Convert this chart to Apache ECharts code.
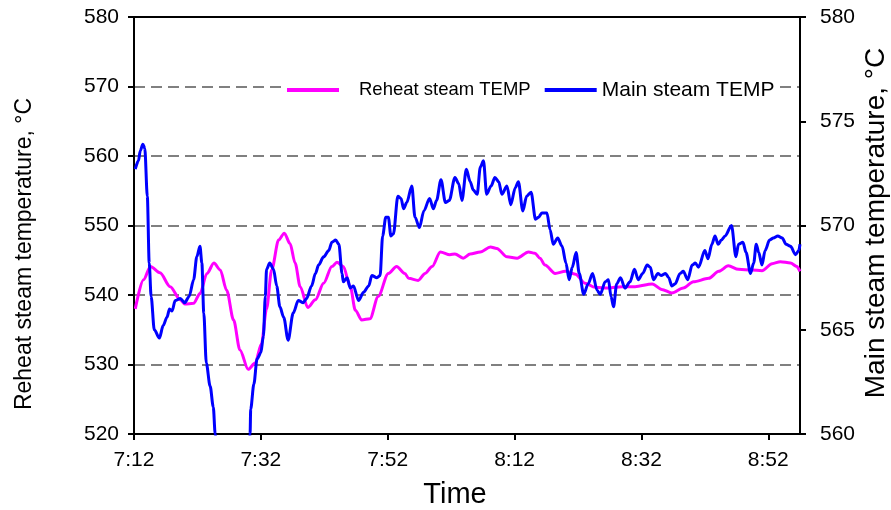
<!DOCTYPE html>
<html>
<head>
<meta charset="utf-8">
<script src="https://cdn.jsdelivr.net/npm/echarts@6/dist/echarts.min.js"></script>
<style>
  html, body { margin: 0; padding: 0; background: #fff; }
  #chart { width: 891px; height: 510px; }
</style>
</head>
<body>
<div id="chart"></div>
<script>
// Minutes elapsed since 7:12 and temperatures (°C)
const reheatTime = [0.2, 1.5, 2.6, 4.1, 5.7, 7.3, 8.0, 9.4, 10.4, 11.5, 12.6, 13.6, 14.6, 15.7, 16.7, 18.0, 19.1, 20.1, 20.9, 21.7,
  22.8, 23.7, 24.6, 25.4, 26.2, 27.4, 28.6, 29.9, 31.2, 32.0, 33.0, 34.1, 34.9, 35.9, 37.2, 38.5, 40.1, 41.4, 42.7, 43.3,
  44.8, 45.9, 47.0, 48.3, 49.8, 50.6, 51.9, 53.0, 54.6, 56.2, 57.2, 58.8, 60.4, 62.2, 63.2, 64.0, 64.8, 66.4, 68.0, 69.6,
  71.1, 72.7, 74.8, 76.9, 79.0, 81.7, 83.2, 84.8, 86.6, 88.2, 90.6, 92.2, 93.7, 95.3, 97.4, 99.0, 100.6, 101.9, 103.5, 104.5, 105.0];
const reheatTemp = [538.0, 542.2, 544.1, 543.2, 541.2, 539.3, 538.7, 538.8, 540.2, 543.1, 544.6, 543.6, 540.7, 536.4, 532.1, 529.3, 530.2, 533.0, 538.0, 543.6,
  547.9, 548.9, 547.4, 544.6, 541.2, 538.2, 539.3, 541.7, 544.1, 544.7, 544.1, 541.2, 537.8, 536.4, 536.6, 539.8, 543.1, 544.1, 543.1, 542.4,
  542.1, 543.1, 544.1, 546.2, 545.8, 545.9, 545.3, 545.9, 546.2, 546.9, 546.7, 545.5, 545.3, 546.2, 546.0, 545.3, 544.3, 543.1, 543.4, 543.0,
  541.7, 541.1, 541.0, 541.2, 541.2, 541.6, 540.8, 540.3, 541.0, 541.9, 542.4, 543.4, 544.2, 543.7, 543.6, 543.5, 544.5, 544.8, 544.6, 544.1, 543.4];

const mainTime = [0.2, 0.7, 1.0, 1.4, 1.7, 2.1, 2.4, 2.7, 3.2, 4.0, 4.6, 5.2, 5.6, 6.0, 6.5, 7.3, 8.0, 8.7, 9.4, 9.9,
  10.4, 10.7, 11.0, 11.4, 12.0, 12.5, 12.8, 13.1, 15.5, 18.0, 18.3, 18.4, 18.9, 19.4, 20.0, 20.4, 20.7, 20.9, 21.4, 22.0,
  22.5, 23.0, 23.6, 24.3, 25.1, 25.9, 26.7, 27.2, 28.0, 28.6, 29.1, 29.9, 30.7, 31.2, 31.8, 32.3, 32.8, 33.0, 33.6, 34.1,
  34.6, 35.4, 36.2, 37.0, 37.5, 38.3, 38.8, 39.2, 39.7, 40.1, 40.5, 40.9, 41.6, 42.1, 42.5, 43.0, 43.8, 44.3, 45.0, 45.7,
  46.6, 47.2, 47.7, 48.4, 49.1, 49.7, 50.6, 51.2, 51.7, 52.4, 53.0, 53.5, 54.1, 54.6, 55.1, 55.6, 56.3, 56.9, 57.5, 58.0,
  58.8, 59.4, 60.1, 60.6, 61.3, 61.9, 62.6, 63.3, 63.8, 64.3, 65.1, 65.6, 66.1, 66.8, 67.5, 68.1, 68.6, 69.1, 69.7, 70.2,
  70.9, 71.6, 72.3, 73.0, 73.5, 74.3, 74.8, 75.2, 75.6, 76.1, 76.7, 77.4, 78.2, 78.9, 79.5, 80.2, 80.9, 81.4, 81.9, 82.6,
  83.1, 83.8, 84.3, 84.8, 85.3, 86.1, 86.6, 87.3, 88.0, 88.5, 89.0, 90.0, 90.5, 91.1, 91.6, 92.1, 92.6, 93.2, 94.2, 94.9,
  95.3, 96.0, 96.5, 97.2, 97.7, 98.1, 98.5, 99.0, 99.5, 100.2, 100.8, 101.5, 102.2, 102.8, 103.5, 104.3, 104.8, 105.0];
const mainTemp = [572.7, 573.1, 573.6, 573.9, 573.7, 571.4, 568.2, 566.6, 565.0, 564.6, 565.2, 565.6, 566.0, 565.9, 566.4, 566.5, 566.3, 566.6, 567.4, 568.5,
  569.0, 568.2, 565.8, 563.4, 562.3, 561.3, 560.0, 558.8, 556.5, 558.5, 560.0, 561.2, 562.4, 563.6, 563.9, 564.7, 566.6, 567.9, 568.2, 567.9,
  567.1, 566.1, 565.6, 564.5, 565.8, 566.4, 566.3, 566.5, 567.1, 567.7, 568.1, 568.5, 568.8, 569.2, 569.3, 569.1, 567.7, 567.3, 567.5, 567.0,
  567.1, 566.4, 566.8, 567.1, 567.6, 567.5, 567.6, 569.5, 570.4, 570.4, 569.5, 569.6, 571.4, 571.3, 570.8, 571.1, 571.9, 570.4, 569.9, 570.7,
  571.3, 570.8, 571.2, 572.2, 571.1, 571.2, 572.3, 572.0, 571.2, 572.7, 572.1, 571.7, 571.5, 572.8, 573.1, 571.5, 571.9, 572.3, 572.1, 571.5,
  571.9, 571.0, 571.8, 572.1, 570.7, 571.4, 571.6, 570.3, 570.4, 570.6, 570.6, 569.8, 569.1, 569.4, 569.0, 568.2, 567.4, 568.0, 568.7, 567.7,
  566.7, 567.2, 567.7, 566.9, 566.7, 567.3, 567.4, 566.6, 566.1, 567.2, 567.5, 567.0, 567.3, 567.9, 567.4, 567.7, 568.1, 568.0, 567.4, 567.7,
  567.6, 567.7, 567.5, 567.1, 567.2, 567.7, 567.8, 567.4, 568.1, 568.2, 568.0, 568.8, 568.4, 569.1, 569.5, 569.1, 569.3, 569.5, 570.0, 568.5,
  569.1, 569.2, 568.7, 567.7, 568.2, 569.1, 568.7, 568.1, 568.8, 569.3, 569.4, 569.5, 569.4, 569.1, 569.0, 568.6, 568.8, 569.1];

const timeTicks = ['7:12', '7:32', '7:52', '8:12', '8:32', '8:52'];
const seriesNames = ['Reheat steam TEMP', 'Main steam TEMP'];

const zip = (xs, ys) => xs.map((x, i) => [x, ys[i]]);

const FONT = "'Liberation Sans', Arial, sans-serif";
const chart = echarts.init(document.getElementById('chart'));

const blackLine = { show: true, onZero: false, lineStyle: { color: '#000', width: 2 } };

chart.setOption({
  animation: false,
  backgroundColor: '#ffffff',
  textStyle: { fontFamily: FONT, color: '#000' },
  grid: { left: 134, right: 91, top: 17, bottom: 76, containLabel: false },
  legend: {
    left: 282,
    top: 76.5,
    padding: [3, 0, 3, 5],
    backgroundColor: '#ffffff',
    itemWidth: 52,
    itemHeight: 4,
    itemGap: 14,
    icon: 'rect',
    data: seriesNames,
    formatter: name => name === seriesNames[0] ? '{a|' + name + '}' : '{b|' + name + '}',
    textStyle: {
      fontFamily: FONT,
      color: '#000',
      rich: {
        a: { fontSize: 18.5, fontFamily: FONT, color: '#000', padding: [0, 0, 0, 15] },
        b: { fontSize: 21, fontFamily: FONT, color: '#000' }
      }
    }
  },
  xAxis: [{
    type: 'value',
    min: 0,
    max: 105,
    interval: 20,
    axisLine: blackLine,
    axisTick: { show: true, inside: false, length: 6, lineStyle: { color: '#000', width: 2 } },
    axisLabel: {
      fontSize: 21, color: '#000', margin: 16, showMaxLabel: false,
      formatter: v => (v % 20 === 0 ? timeTicks[v / 20] : '')
    },
    splitLine: { show: false }
  }, {
    type: 'value',
    position: 'top',
    min: 0,
    max: 105,
    z: 5,
    axisLine: blackLine,
    axisTick: { show: false },
    axisLabel: { show: false },
    splitLine: { show: false }
  }],
  yAxis: [{
    type: 'value',
    position: 'left',
    min: 520,
    max: 580,
    interval: 10,
    axisLine: blackLine,
    axisTick: { show: true, length: 6, lineStyle: { color: '#000', width: 2 } },
    axisLabel: { fontSize: 21, color: '#000', margin: 15 },
    splitLine: { show: true, lineStyle: { color: '#808080', width: 2, type: [11, 6] } }
  }, {
    type: 'value',
    position: 'right',
    min: 560,
    max: 580,
    interval: 5,
    axisLine: blackLine,
    axisTick: { show: true, length: 6, lineStyle: { color: '#000', width: 2 } },
    axisLabel: { fontSize: 21, color: '#000', margin: 20 },
    splitLine: { show: false }
  }],
  graphic: [
    {
      type: 'text', x: 25, y: 254, rotation: Math.PI / 2,
      style: { text: 'Reheat steam temperature, °C', font: '23px ' + FONT, fill: '#000', align: 'center', verticalAlign: 'middle' }
    },
    {
      type: 'text', x: 876, y: 223, rotation: Math.PI / 2,
      style: { text: 'Main steam temperature, °C', font: '28px ' + FONT, fill: '#000', align: 'center', verticalAlign: 'middle' }
    },
    {
      type: 'text', x: 455, y: 495,
      style: { text: 'Time', font: '29px ' + FONT, fill: '#000', align: 'center', verticalAlign: 'middle' }
    }
  ],
  series: [
    {
      name: seriesNames[0],
      type: 'line',
      yAxisIndex: 0,
      data: zip(reheatTime, reheatTemp),
      symbol: 'none',
      smooth: 0.3,
      smoothMonotone: 'x',
      clip: true,
      lineStyle: { color: '#ff00ff', width: 3 },
      itemStyle: { color: '#ff00ff' },
      z: 3
    },
    {
      name: seriesNames[1],
      type: 'line',
      yAxisIndex: 1,
      data: zip(mainTime, mainTemp),
      symbol: 'none',
      smooth: 0.3,
      smoothMonotone: 'x',
      clip: true,
      lineStyle: { color: '#0000ff', width: 3 },
      itemStyle: { color: '#0000ff' },
      z: 4
    }
  ]
});
</script>
</body>
</html>
